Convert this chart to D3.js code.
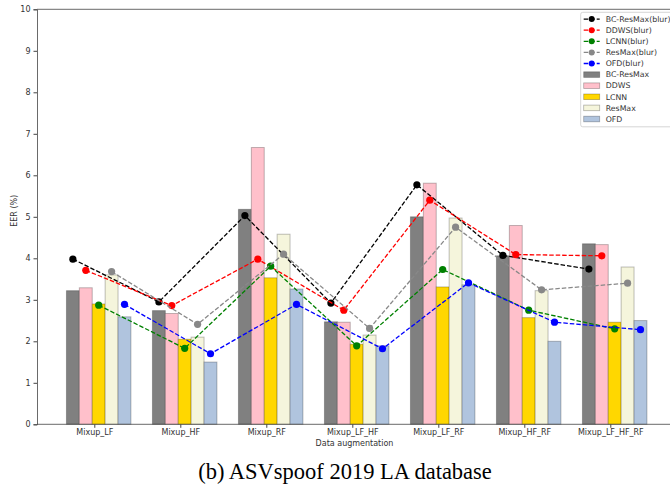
<!DOCTYPE html>
<html>
<head>
<meta charset="utf-8">
<script src="https://cdn.jsdelivr.net/npm/d3@7"></script>
<style>
  body { margin: 0; background: #fff; }
  text { font-family: "DejaVu Sans", sans-serif; fill: #333; }
</style>
</head>
<body>
<script>
var width = 670;
var height = 487;

// data
var categories = ['Mixup_LF', 'Mixup_HF', 'Mixup_RF', 'Mixup_LF_HF', 'Mixup_LF_RF', 'Mixup_HF_RF', 'Mixup_LF_HF_RF'];
var barNames = ['BC-ResMax', 'DDWS', 'LCNN', 'ResMax', 'OFD'];
var barColors = ['#808080', '#ffc0cb', '#ffd700', '#f5f5dc', '#b0c4de'];
var barBCResMax = [3.22, 2.74, 5.18, 2.47, 5.00, 4.06, 4.35];
var barDDWS     = [3.29, 2.67, 6.67, 2.46, 5.81, 4.79, 4.33];
var barLCNN     = [2.90, 2.05, 3.53, 1.93, 3.31, 2.57, 2.46];
var barResMax   = [3.60, 2.10, 4.58, 2.15, 4.97, 3.22, 3.79];
var barOFD      = [2.59, 1.50, 3.26, 1.89, 3.36, 2.00, 2.50];

var lineNames = ['BC-ResMax(blur)', 'DDWS(blur)', 'LCNN(blur)', 'ResMax(blur)', 'OFD(blur)'];
var lineColors = ['#000000', '#ff0000', '#008000', '#888888', '#0000ff'];
var lineBCResMax = [3.98, 2.95, 5.03, 2.92, 5.77, 4.07, 3.74];
var lineDDWS     = [3.71, 2.86, 3.98, 2.75, 5.40, 4.09, 4.06];
var lineLCNN     = [2.87, 1.83, 3.81, 1.89, 3.73, 2.75, 2.30];
var lineResMax   = [3.68, 2.41, 4.10, 2.31, 4.75, 3.24, 3.40];
var lineOFD      = [2.89, 1.70, 2.89, 1.82, 3.41, 2.46, 2.28];

var yTicks = [0, 1, 2, 3, 4, 5, 6, 7, 8, 9, 10];

var barSeries = [barBCResMax, barDDWS, barLCNN, barResMax, barOFD];
var lineSeries = [lineBCResMax, lineDDWS, lineLCNN, lineResMax, lineOFD];

var plot = {left: 37, right: 700, top: 9.3, bottom: 424.3};
var barW = 0.15;

var x = d3.scaleLinear().domain([0, 6]).range([94.3, 610.3]);
var y = d3.scaleLinear().domain([0, 10]).range([plot.bottom, plot.top]);
var unit = x(1) - x(0);

// bar center offset for series k (in category units)
function off(k) { return (k - 1.66) * barW; }

var svg = d3.select('body').append('svg')
  .attr('width', width)
  .attr('height', height);

// bars
barSeries.forEach(function (vals, k) {
  svg.append('g').selectAll('rect')
    .data(vals)
    .enter()
    .append('rect')
    .attr('x', function (d, i) { return x(i + off(k)) - barW * unit / 2; })
    .attr('y', function (d) { return y(d); })
    .attr('width', barW * unit)
    .attr('height', function (d) { return y(0) - y(d); })
    .style('fill', barColors[k])
    .style('stroke', 'rgba(0,0,0,0.25)')
    .style('stroke-width', 1);
});

// axes frame
svg.append('line').attr('x1', plot.left).attr('x2', plot.right).attr('y1', plot.top).attr('y2', plot.top)
  .style('stroke', '#444').style('stroke-width', 0.8);

var yAxis = svg.append('g')
  .attr('transform', 'translate(' + plot.left + ',0)')
  .call(d3.axisLeft(y).tickValues(yTicks).tickSize(3.5).tickPadding(3));
yAxis.select('.domain').style('stroke', '#444').style('stroke-width', 0.8);
yAxis.selectAll('line').style('stroke', '#444');
yAxis.selectAll('text').style('font-size', '8px').style('font-family', '"DejaVu Sans", sans-serif').style('fill', '#333');

var xAxis = svg.append('g')
  .attr('transform', 'translate(0,' + plot.bottom + ')')
  .call(d3.axisBottom(x).tickValues(d3.range(categories.length))
    .tickFormat(function (i) { return categories[i]; }).tickSize(3.5).tickPadding(2));
xAxis.select('.domain').attr('d', 'M' + plot.left + ',0H' + plot.right).style('stroke', '#444').style('stroke-width', 0.8);
xAxis.selectAll('line').style('stroke', '#444');
xAxis.selectAll('text').style('font-size', '8px').style('font-family', '"DejaVu Sans", sans-serif').style('fill', '#333');

// lines
var line = d3.line()
  .x(function (d) { return d.x; })
  .y(function (d) { return y(d.v); });

lineSeries.forEach(function (vals, k) {
  var pts = vals.map(function (v, i) { return {x: x(i + off(k)), v: v}; });
  var g = svg.append('g');
  g.append('path')
    .datum(pts)
    .attr('d', line)
    .style('fill', 'none')
    .style('stroke', lineColors[k])
    .style('stroke-width', 1.3)
    .style('stroke-dasharray', '4.5,2');
  g.selectAll('circle')
    .data(pts)
    .enter()
    .append('circle')
    .attr('cx', function (d) { return d.x; })
    .attr('cy', function (d) { return y(d.v); })
    .attr('r', 3.6)
    .style('fill', lineColors[k]);
});

// axis labels
svg.append('text')
  .attr('x', (plot.left + 670) / 2 + 1)
  .attr('y', 446)
  .attr('text-anchor', 'middle')
  .style('font-size', '8px')
  .text('Data augmentation');

svg.append('text')
  .attr('transform', 'translate(17,' + ((plot.top + plot.bottom) / 2 - 6) + ') rotate(-90)')
  .attr('text-anchor', 'middle')
  .style('font-size', '8px')
  .text('EER (%)');

// legend
var leg = svg.append('g').attr('transform', 'translate(580.7,12.3)');
leg.append('rect')
  .attr('x', 0).attr('y', 0).attr('width', 120).attr('height', 114.5).attr('rx', 2)
  .style('fill', '#fff').style('stroke', '#ccc').style('stroke-width', 0.8);

var rowY = function (i) { return 6.8 + i * 11.1; };

lineNames.forEach(function (name, k) {
  var r = leg.append('g').attr('transform', 'translate(0,' + rowY(k) + ')');
  r.append('line').attr('x1', 3).attr('x2', 19).attr('y1', 0).attr('y2', 0)
    .style('stroke', lineColors[k]).style('stroke-width', 1.3).style('stroke-dasharray', '4.5,2');
  r.append('circle').attr('cx', 11).attr('cy', 0).attr('r', 3).style('fill', lineColors[k]);
  r.append('text').attr('x', 25).attr('y', 2.7).style('font-size', '7.8px').text(name);
});

barNames.forEach(function (name, k) {
  var r = leg.append('g').attr('transform', 'translate(0,' + rowY(k + 5) + ')');
  r.append('rect').attr('x', 3).attr('y', -2.8).attr('width', 16).attr('height', 5.6)
    .style('fill', barColors[k]).style('stroke', 'rgba(0,0,0,0.3)').style('stroke-width', 0.8);
  r.append('text').attr('x', 25).attr('y', 2.7).style('font-size', '7.8px').text(name);
});

// caption
svg.append('text')
  .attr('x', 345)
  .attr('y', 479)
  .attr('text-anchor', 'middle')
  .style('font-family', '"Liberation Serif", serif')
  .style('font-size', '22.5px')
  .style('fill', '#000')
  .text('(b) ASVspoof 2019 LA database');
</script>
</body>
</html>
